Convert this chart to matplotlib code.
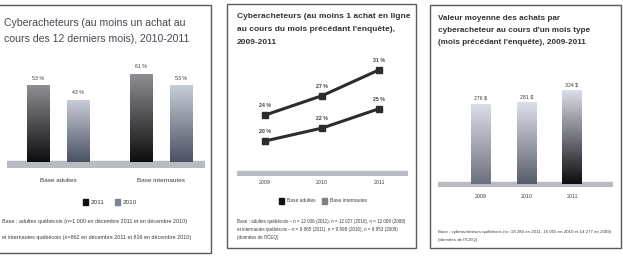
import numpy as np
import matplotlib
matplotlib.use("Agg")
import matplotlib.pyplot as plt
from matplotlib.colors import LinearSegmentedColormap
from matplotlib.patches import Rectangle

W, H = 623, 257
plt.rcParams['font.family'] = ['Liberation Sans', 'DejaVu Sans']

# panel 1: cyberacheteurs 12 derniers mois
p1_groups = ["Base adultes", "Base internautes"]
p1_years = ["2011", "2010"]
p1_2011 = [53, 61]
p1_2010 = [43, 53]

# panel 2: au moins 1 achat le mois precedent
p2_years = ["2009", "2010", "2011"]
p2_series = ["Base adultes", "Base internautes"]
p2_internautes = [24, 27, 31]
p2_adultes = [20, 22, 25]

# panel 3: valeur moyenne des achats ($)
p3_years = ["2009", "2010", "2011"]
p3_values = [276, 281, 324]

TXT = "#3b3b45"
BAND = "#b9bbc3"

fig = plt.figure(figsize=(W / 100, H / 100), dpi=100)
renderer = fig.canvas.get_renderer()


def px(x0, y0, x1, y1):
    """pixel box (top-left origin) -> figure fraction rect"""
    return [x0 / W, 1 - y1 / H, (x1 - x0) / W, (y1 - y0) / H]


def fit_size(s, width_px, **kw):
    """font size that makes string s about width_px wide"""
    t = fig.text(0, 0, s, fontsize=10, **kw)
    w = t.get_window_extent(renderer).width
    t.remove()
    return 10 * width_px / w


def ftext(x, y, s, **kw):
    kw.setdefault("color", TXT)
    kw.setdefault("va", "center")
    return fig.text(x / W, 1 - y / H, s, **kw)


def square(x, y, color):
    fig.add_artist(Rectangle((x / W, 1 - (y + 3) / H), 5 / W, 6 / H,
                             transform=fig.transFigure, color=color))


def gradient_bar(ax, x, height, width, c_top, c_bottom):
    cmap = LinearSegmentedColormap.from_list("g", [c_bottom, c_top])
    grad = np.linspace(0, 1, 64).reshape(-1, 1)
    bar = ax.bar(x, height, width, color="none", edgecolor="none", zorder=2)[0]
    im = ax.imshow(grad, cmap=cmap, origin="lower", aspect="auto", zorder=2,
                   extent=[x - width / 2, x + width / 2, 0, height])
    im.set_clip_path(bar)


# frames
for (x0, y0, x1, y1) in [(-3, 5, 211, 253), (227, 4, 416, 248), (430, 5, 621, 248)]:
    fig.add_artist(Rectangle((x0 / W, 1 - y1 / H), (x1 - x0) / W, (y1 - y0) / H,
                             transform=fig.transFigure, fill=False,
                             edgecolor="#5a5a60", lw=1.0))

lab_fs = fit_size("53 %", 12)
small_fs = fit_size("Base internautes", 48)

# ---------------- panel 1 ----------------
t1 = ["Cyberacheteurs (au moins un achat au", "cours des 12 derniers mois), 2010-2011"]
fs = fit_size(t1[0], 182)
ftext(4, 23, t1[0], fontsize=fs, color="#4a4656")
ftext(4, 39, t1[1], fontsize=fs, color="#4a4656")

ax1 = fig.add_axes(px(7, 60, 205, 168))
ax1.axhspan(-4, 0.5, color=BAND, zorder=1)
g = np.arange(len(p1_groups))
off, bw = 0.195, 0.215
for i in g:
    gradient_bar(ax1, i - off, p1_2011[i], bw, "#8f8f94", "#0e0e10")
    gradient_bar(ax1, i + off, p1_2010[i], bw, "#c9cdd8", "#4b5262")
    ax1.text(i - off, p1_2011[i] + 3, f"{p1_2011[i]} %", ha="center", va="bottom",
             fontsize=lab_fs, color=TXT)
    ax1.text(i + off, p1_2010[i] + 3, f"{p1_2010[i]} %", ha="center", va="bottom",
             fontsize=lab_fs, color=TXT)
ax1.set_xlim(-0.5, 1.43)
ax1.set_ylim(-4, 70.3)
ax1.set_axis_off()

for i, name in enumerate(p1_groups):
    ftext(58 + i * 102.5, 181, name, fontsize=small_fs, ha="center")

square(83, 202, "#111111")
ftext(91, 202, p1_years[0], fontsize=small_fs)
square(115, 202, "#7d8392")
ftext(123, 202, p1_years[1], fontsize=small_fs)

f1 = ["Base : adultes québécois (n=1 000 en décembre 2011 et en décembre 2010)",
      "et internautes québécois (n=862 en décembre 2011 et 816 en décembre 2010)"]
fs = fit_size(f1[0], 183)
ftext(2, 221, f1[0], fontsize=fs)
ftext(2, 238, f1[1], fontsize=fs)

# ---------------- panel 2 ----------------
t2 = ["Cyberacheteurs (au moins 1 achat en ligne",
      "au cours du mois précédant l'enquête),",
      "2009-2011"]
fs = fit_size(t2[0], 170, weight="bold")
for k, line in enumerate(t2):
    ftext(237, 17 + k * 12.5, line, fontsize=fs, color="#33333a", weight="bold")

ax2 = fig.add_axes(px(237, 60, 408, 176))
x2 = np.arange(len(p2_years))
ax2.axhspan(14.6, 15.4, color=BAND, zorder=1)
for vals in (p2_internautes, p2_adultes):
    ax2.plot(x2, vals, color="#2b2b30", lw=2.2, marker="s", markersize=5, zorder=3)
    for xi, v in zip(x2, vals):
        ax2.annotate(f"{v} %", (xi, v), xytext=(0, 5), textcoords="offset points",
                     ha="center", va="bottom", fontsize=lab_fs, color=TXT,
                     weight="bold")
ax2.set_xlim(-0.49, 2.5)
ax2.set_ylim(14.6, 32.5)
ax2.set_axis_off()

for i, yr in enumerate(p2_years):
    ftext(265 + i * 57, 183, yr, fontsize=lab_fs, ha="center")

leg_fs = fit_size(p2_series[0], 28)
square(279, 201, "#111111")
ftext(287, 201, p2_series[0], fontsize=leg_fs)
square(322, 201, "#808080")
ftext(330, 201, p2_series[1], fontsize=leg_fs)

f2 = ["Base : adultes québécois – n = 12 006 (2011), n = 12 027 (2010), n = 12 009 (2009)",
      "et internautes québécois – n = 9 865 (2011), n = 9 898 (2010), n = 9 953 (2009)",
      "(données de l'ICEQ)"]
fs = fit_size(f2[0], 169)
for k, line in enumerate(f2):
    ftext(237, 221 + k * 8, line, fontsize=fs)

# ---------------- panel 3 ----------------
t3 = ["Valeur moyenne des achats par",
      "cyberacheteur au cours d'un mois type",
      "(mois précédant l'enquête), 2009-2011"]
fs = fit_size(t3[1], 152, weight="bold")
for k, line in enumerate(t3):
    ftext(438, 18 + k * 12.5, line, fontsize=fs, color="#33333a", weight="bold")

ax3 = fig.add_axes(px(438, 60, 613, 187))
x3 = np.arange(len(p3_years))
ax3.axhspan(-10, 7, color=BAND, zorder=1)
bottoms = ["#6d717d", "#5a5e6b", "#0d0d12"]
for i in x3:
    gradient_bar(ax3, i, p3_values[i], 0.42, "#dcdfe8", bottoms[i])
    ax3.text(i, p3_values[i] + 10, f"{p3_values[i]} $", ha="center", va="bottom",
             fontsize=lab_fs, color=TXT)
ax3.set_xlim(-0.945, 2.9)
ax3.set_ylim(-10, 427)
ax3.set_axis_off()

for i, yr in enumerate(p3_years):
    ftext(481 + i * 45.5, 196, yr, fontsize=lab_fs, ha="center")

f3 = ["Base : cyberacheteurs québécois (n= 18 280 en 2011, 16 055 en 2010 et 14 277 en 2009)",
      "(données de l'ICEQ)"]
fs = fit_size(f3[0], 175)
ftext(438, 232, f3[0], fontsize=fs)
ftext(438, 240, f3[1], fontsize=fs)

fig.savefig("out.png", dpi=100)
